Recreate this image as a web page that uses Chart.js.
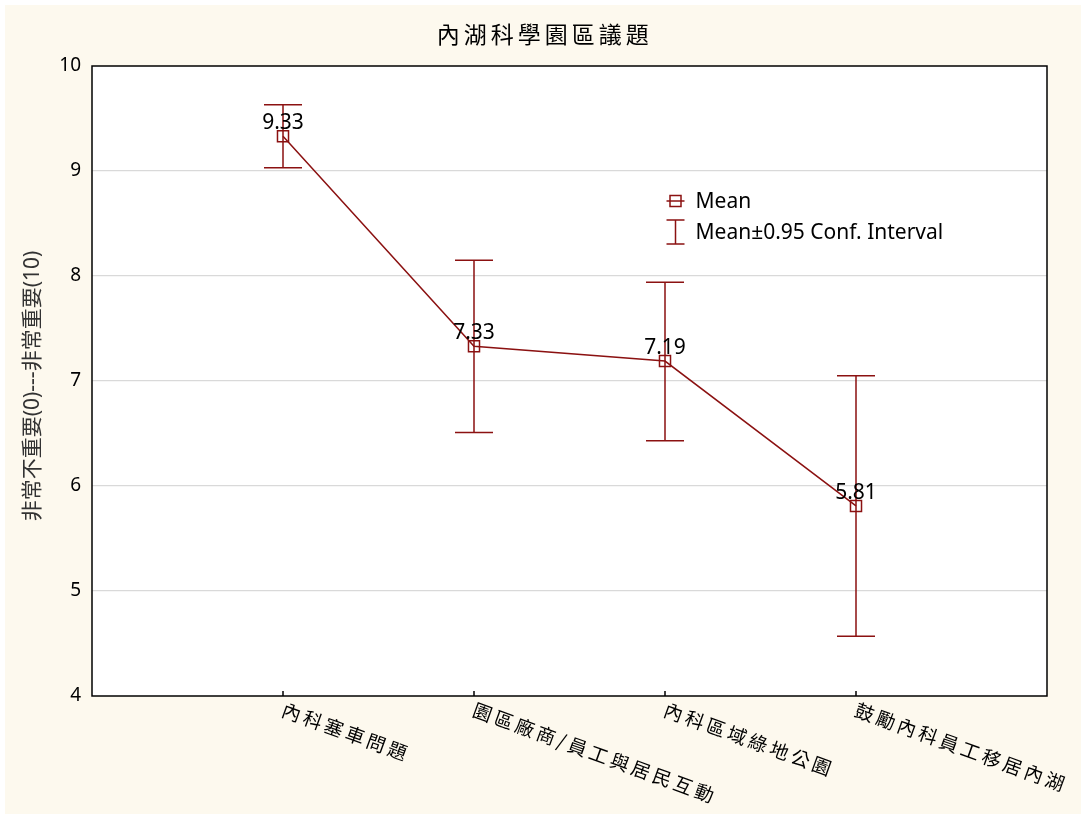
<!DOCTYPE html>
<html lang="zh-Hant">
<head>
<meta charset="UTF-8">
<title>內湖科學園區議題</title>
<script src="https://cdn.jsdelivr.net/npm/chart.js"></script>
<style>
  html, body { margin: 0; padding: 0; background: #ffffff; }
  #wrap { width: 1081px; height: 814px; }
</style>
</head>
<body>
<div id="wrap"><canvas id="grafico"></canvas></div>

<script>
    // dados
    const categorias = ['內科塞車問題', '園區廠商/員工與居民互動', '內科區域綠地公園', '鼓勵內科員工移居內湖']
    const medias = [9.33, 7.33, 7.19, 5.81]
    const limiteInferior = [9.03, 6.51, 6.43, 4.57]
    const limiteSuperior = [9.63, 8.15, 7.94, 7.05]
    const rotulos = ['9.33', '7.33', '7.19', '5.81']
    const yTicks = [4, 5, 6, 7, 8, 9, 10]

    const corSerie = '#8b1111'
    const fonteKai = '"Noto Sans CJK TC", "Noto Sans CJK SC", sans-serif'
    const fonteTexto = '"Noto Sans", "Open Sans", "Noto Sans CJK TC", sans-serif'

    const pontos = medias.map(function (v, i) { return { x: i + 1, y: v } })

    // fundo, moldura, barras de erro, rótulos e legenda
    const desenho = {
        id: 'desenho',
        beforeDraw: function (chart) {
            const ctx = chart.ctx
            const a = chart.chartArea
            ctx.save()
            ctx.fillStyle = '#fdf9ee'
            ctx.fillRect(5, 5, chart.width - 5, chart.height - 5)
            ctx.fillStyle = '#ffffff'
            ctx.fillRect(a.left, a.top, a.right - a.left, a.bottom - a.top)
            ctx.restore()
        },
        afterDatasetsDraw: function (chart) {
            const ctx = chart.ctx
            const xs = chart.scales.x
            const ys = chart.scales.y
            ctx.save()
            ctx.strokeStyle = corSerie
            ctx.lineWidth = 1.5
            for (let i = 0; i < medias.length; i++) {
                const x = xs.getPixelForValue(i + 1)
                const y1 = ys.getPixelForValue(limiteSuperior[i])
                const y2 = ys.getPixelForValue(limiteInferior[i])
                ctx.beginPath()
                ctx.moveTo(x, y1); ctx.lineTo(x, y2)
                ctx.moveTo(x - 19, y1); ctx.lineTo(x + 19, y1)
                ctx.moveTo(x - 19, y2); ctx.lineTo(x + 19, y2)
                ctx.stroke()
            }
            // rótulos dos valores
            ctx.fillStyle = '#000000'
            ctx.font = '21px ' + fonteTexto
            ctx.textAlign = 'center'
            ctx.textBaseline = 'middle'
            for (let i = 0; i < medias.length; i++) {
                ctx.fillText(rotulos[i], xs.getPixelForValue(i + 1), ys.getPixelForValue(medias[i]) - 13)
            }
            ctx.restore()
        },
        afterDraw: function (chart) {
            const ctx = chart.ctx
            const a = chart.chartArea
            const xs = chart.scales.x
            ctx.save()
            // moldura
            ctx.strokeStyle = '#000000'
            ctx.lineWidth = 1.5
            ctx.strokeRect(a.left, a.top, a.right - a.left, a.bottom - a.top)
            // marcas do eixo x
            ctx.beginPath()
            for (let i = 0; i < categorias.length; i++) {
                const x = xs.getPixelForValue(i + 1)
                ctx.moveTo(x, a.bottom); ctx.lineTo(x, a.bottom - 5)
            }
            ctx.stroke()
            // rótulos das categorias, inclinados
            ctx.fillStyle = '#000000'
            ctx.font = '19px ' + fonteKai
            ctx.letterSpacing = '3.5px'
            ctx.textAlign = 'left'
            ctx.textBaseline = 'top'
            for (let i = 0; i < categorias.length; i++) {
                const x = xs.getPixelForValue(i + 1)
                ctx.save()
                ctx.translate(x + 3, a.bottom + 4)
                ctx.rotate(20 * Math.PI / 180)
                ctx.fillText(categorias[i], 0, 0)
                ctx.restore()
            }
            // título
            ctx.font = '23px ' + fonteKai
            ctx.letterSpacing = '4px'
            ctx.textAlign = 'left'
            ctx.textBaseline = 'middle'
            ctx.fillText('內湖科學園區議題', a.left + (a.right - a.left) * 0.361, 34)
            ctx.letterSpacing = '0px'
            // título do eixo y
            ctx.save()
            ctx.translate(33, (a.top + a.bottom) / 2 + 5)
            ctx.rotate(-Math.PI / 2)
            ctx.fillStyle = '#333333'
            ctx.font = '21px ' + fonteTexto
            ctx.textAlign = 'center'
            ctx.fillText('非常不重要(0)---非常重要(10)', 0, 0)
            ctx.restore()
            // legenda
            const lx = a.left + (a.right - a.left) * 0.611
            const ly1 = a.top + 135
            const ly2 = a.top + 166
            ctx.strokeStyle = corSerie
            ctx.lineWidth = 1.5
            ctx.beginPath()
            ctx.moveTo(lx - 9, ly1); ctx.lineTo(lx + 9, ly1)
            ctx.stroke()
            ctx.strokeRect(lx - 5.5, ly1 - 5.5, 11, 11)
            ctx.beginPath()
            ctx.moveTo(lx, ly2 - 12); ctx.lineTo(lx, ly2 + 12)
            ctx.moveTo(lx - 9, ly2 - 12); ctx.lineTo(lx + 9, ly2 - 12)
            ctx.moveTo(lx - 9, ly2 + 12); ctx.lineTo(lx + 9, ly2 + 12)
            ctx.stroke()
            ctx.fillStyle = '#000000'
            ctx.font = '21px ' + fonteTexto
            ctx.textAlign = 'left'
            ctx.textBaseline = 'middle'
            ctx.fillText('Mean', lx + 20, ly1 + 1)
            ctx.fillText('Mean\u00b10.95 Conf. Interval', lx + 20, ly2 + 1)
            ctx.restore()
        }
    }

    const config = {
        type: 'line',
        data: {
            datasets: [{
                label: 'Mean',
                data: pontos,
                borderColor: corSerie,
                borderWidth: 1.5,
                backgroundColor: 'transparent',
                pointStyle: 'rect',
                pointRadius: 7.8,
                pointHoverRadius: 7.8,
                pointBorderColor: corSerie,
                pointBorderWidth: 1.5,
                pointBackgroundColor: 'transparent',
                tension: 0
            }]
        },
        options: {
            responsive: true,
            maintainAspectRatio: false,
            animation: false,
            events: [],
            layout: { padding: { top: 66, right: 34, left: 5, bottom: 0 } },
            plugins: {
                legend: { display: false },
                title: { display: false },
                tooltip: { enabled: false }
            },
            scales: {
                x: {
                    type: 'linear',
                    min: 0,
                    max: categorias.length + 1,
                    grid: { display: false },
                    border: { display: false },
                    ticks: { display: false },
                    afterFit: function (s) { s.height = 118 }
                },
                y: {
                    min: 4,
                    max: 10,
                    afterBuildTicks: function (s) { s.ticks = yTicks.map(function (v) { return { value: v } }) },
                    grid: {
                        color: function (c) { return (c.tick.value === 4 || c.tick.value === 10) ? 'rgba(0,0,0,0)' : '#d9d9d9' },
                        lineWidth: 1.2,
                        drawTicks: false
                    },
                    border: { display: false },
                    ticks: {
                        color: '#000000',
                        font: { size: 19, family: fonteTexto },
                        padding: 11
                    },
                    afterFit: function (s) { s.width = 87 }
                }
            }
        },
        plugins: [desenho]
    }

    new Chart(document.getElementById('grafico'), config)
</script>
</body>
</html>
